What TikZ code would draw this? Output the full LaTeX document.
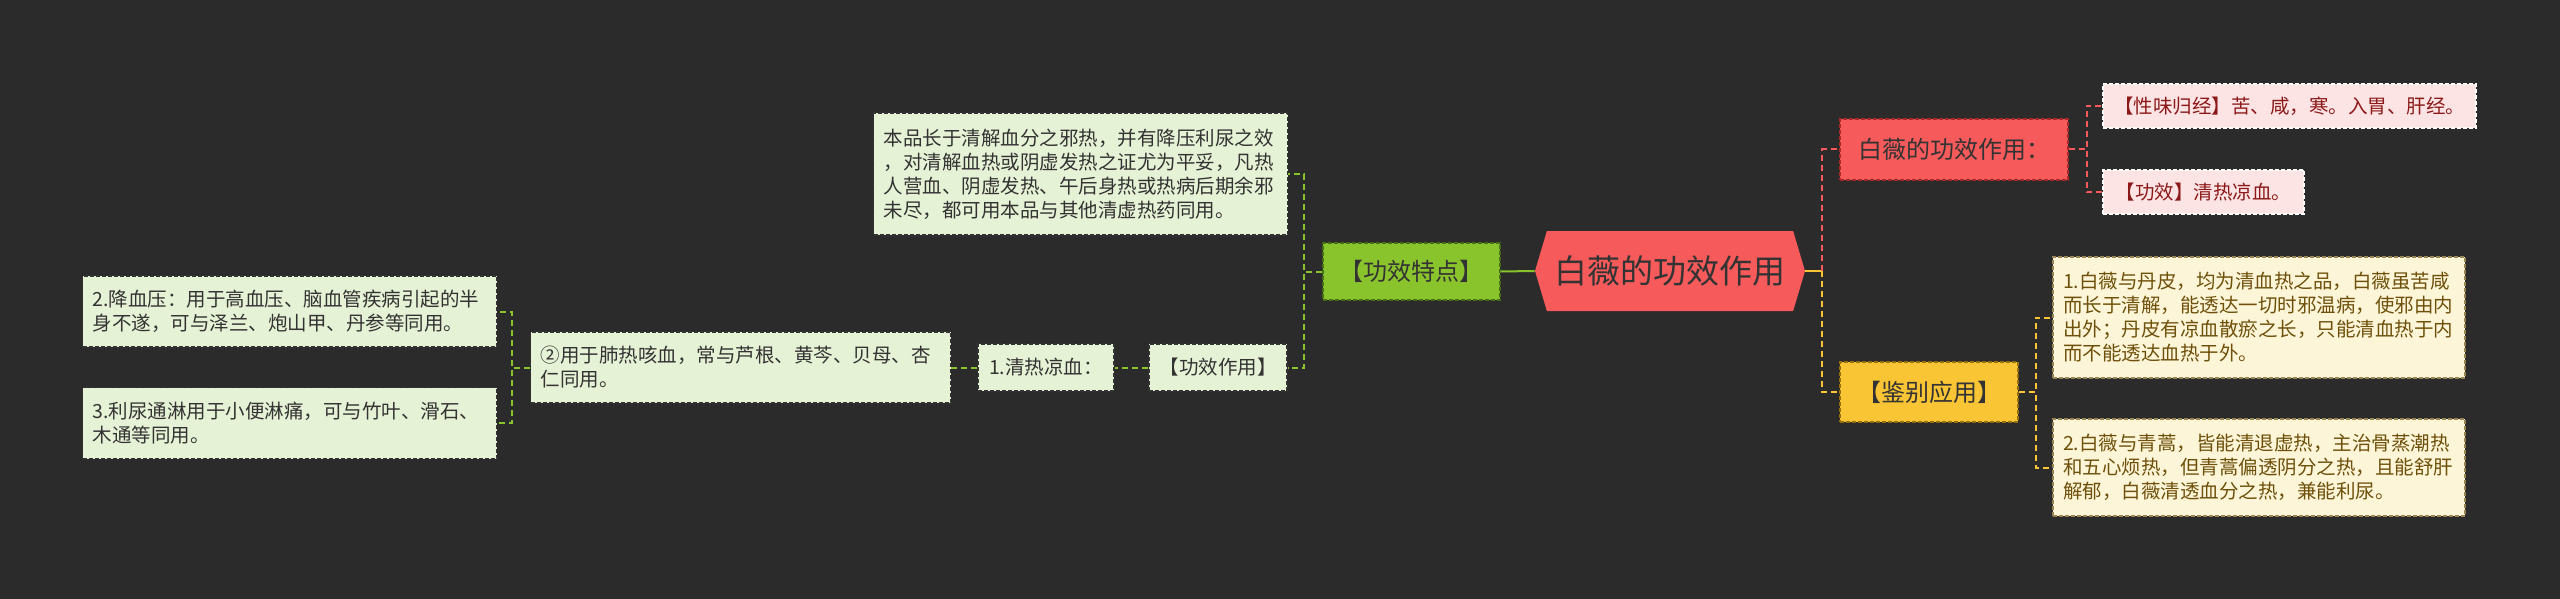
\documentclass[tikz,border=0pt]{standalone}
\usepackage{fontspec}
\setmainfont{Noto Sans CJK SC}
\definecolor{bggray}{RGB}{43,43,43}
\definecolor{leafgreen}{RGB}{230,242,213}
\definecolor{limegreen}{RGB}{138,196,45}
\definecolor{darklime}{RGB}{70,110,20}
\definecolor{rootred}{RGB}{246,90,90}
\definecolor{darkred}{RGB}{170,40,40}
\definecolor{pinkfill}{RGB}{253,228,228}
\definecolor{pinktext}{RGB}{140,25,25}
\definecolor{goldfill}{RGB}{249,197,52}
\definecolor{darkgold}{RGB}{150,110,10}
\definecolor{creamfill}{RGB}{253,245,216}
\definecolor{creamtext}{RGB}{110,80,10}
\definecolor{inkgray}{RGB}{51,51,51}
\usetikzlibrary{shapes.symbols}

\begin{document}
\begin{tikzpicture}[x=0.5pt, y=-0.5pt,
  leaf/.style={draw=inkgray, dash pattern=on 2pt off 1pt, line width=0.6pt, fill=leafgreen, text=inkgray, font=\fontsize{9.75}{12}\selectfont, inner xsep=5pt, inner ysep=0pt, align=left},
  pinkbox/.style={leaf, draw=white, fill=pinkfill, text=pinktext},
  creambox/.style={leaf, draw=creamtext!70, fill=creamfill, text=creamtext},
  midbox/.style={draw=#1, dash pattern=on 2pt off 1pt, line width=0.6pt, text=inkgray, font=\fontsize{12}{14}\selectfont, inner sep=0pt},
  rootbox/.style={shape=signal, signal to=east and west, signal pointer angle=147, fill=rootred, text=inkgray, minimum width=135pt, minimum height=40pt, font=\fontsize{16.5}{20}\selectfont, inner sep=0pt},
  gline/.style={draw=limegreen, line width=1pt, dash pattern=on 3pt off 2pt},
  rline/.style={gline, draw=rootred},
  yline/.style={gline, draw=goldfill}
]
  \fill[bggray] (0,0) rectangle (2560,599);

  \node[rootbox] (root) at (1670,271) {白薇的功效作用};

  \node[midbox=darklime, fill=limegreen, minimum width=88.5pt, minimum height=28.5pt] (gxtd) at (1411.5,271.5) {【功效特点】};
  \node[leaf, text width=197pt, minimum height=61pt] (benpin) at (1080.5,174) {本品长于清解血分之邪热，并有降压利尿之效\\，对清解血热或阴虚发热之证尤为平妥，凡热\\人营血、阴虚发热、午后身热或热病后期余邪\\未尽，都可用本品与其他清虚热药同用。};
  \node[leaf, minimum width=69pt, minimum height=23.5pt] (gxzy) at (1218,367.5) {【功效作用】};
  \node[leaf, minimum width=68pt, minimum height=23.5pt] (qrlx) at (1046,367.5) {1.清热凉血：};
  \node[leaf, text width=200pt, minimum height=35.5pt] (feire) at (740.5,367.5) {②用于肺热咳血，常与芦根、黄芩、贝母、杏\\仁同用。};
  \node[leaf, text width=197pt, minimum height=35.5pt] (jyy) at (289.5,311.5) {2.降血压：用于高血压、脑血管疾病引起的半\\身不遂，可与泽兰、炮山甲、丹参等同用。};
  \node[leaf, text width=197pt, minimum height=35.5pt] (lnl) at (289.5,423) {3.利尿通淋用于小便淋痛，可与竹叶、滑石、\\木通等同用。};

  \node[midbox=darkred, fill=rootred, minimum width=114pt, minimum height=30.5pt] (zyzy) at (1954,149.5) {白薇的功效作用：};
  \node[pinkbox, minimum width=186.5pt, minimum height=22pt] (xwgj) at (2289.5,106) {【性味归经】苦、咸，寒。入胃、肝经。};
  \node[pinkbox, minimum width=100.5pt, minimum height=22pt] (gx) at (2203.5,192) {【功效】清热凉血。};

  \node[midbox=darkgold, fill=goldfill, minimum width=89pt, minimum height=30pt] (jbyy) at (1929,392) {【鉴别应用】};
  \node[creambox, text width=196pt, minimum height=60.5pt] (db) at (2259,317.5) {1.白薇与丹皮，均为清血热之品，白薇虽苦咸\\而长于清解，能透达一切时邪温病，使邪由内\\出外；丹皮有凉血散瘀之长，只能清血热于内\\而不能透达血热于外。};
  \node[creambox, text width=196pt, minimum height=48.5pt] (qh) at (2259,467.5) {2.白薇与青蒿，皆能清退虚热，主治骨蒸潮热\\和五心烦热，但青蒿偏透阴分之热，且能舒肝\\解郁，白薇清透血分之热，兼能利尿。};

  \draw[draw=limegreen, line width=1pt] (root.west) -- (gxtd.east);
  \draw[gline] (gxtd.west) -- ++(-18,0) |- (benpin.east);
  \draw[gline] (gxtd.west) -- ++(-18,0) |- (gxzy.east);
  \draw[gline] (gxzy.west) -- (qrlx.east);
  \draw[gline] (qrlx.west) -- (feire.east);
  \draw[gline] (feire.west) -- ++(-18,0) |- (jyy.east);
  \draw[gline] (feire.west) -- ++(-18,0) |- (lnl.east);

  \path (root.east) ++(17,0) coordinate (rj);
  \draw[draw=goldfill, line width=1pt] (root.east) -- (rj);
  \draw[rline] (rj) |- (zyzy.west);
  \draw[yline] (rj) |- (jbyy.west);
  \draw[rline] (zyzy.east) -- ++(18,0) |- (xwgj.west);
  \draw[rline] (zyzy.east) -- ++(18,0) |- (gx.west);
  \draw[yline] (jbyy.east) -- ++(17,0) |- (db.west);
  \draw[yline] (jbyy.east) -- ++(17,0) |- (qh.west);
\end{tikzpicture}
\end{document}
